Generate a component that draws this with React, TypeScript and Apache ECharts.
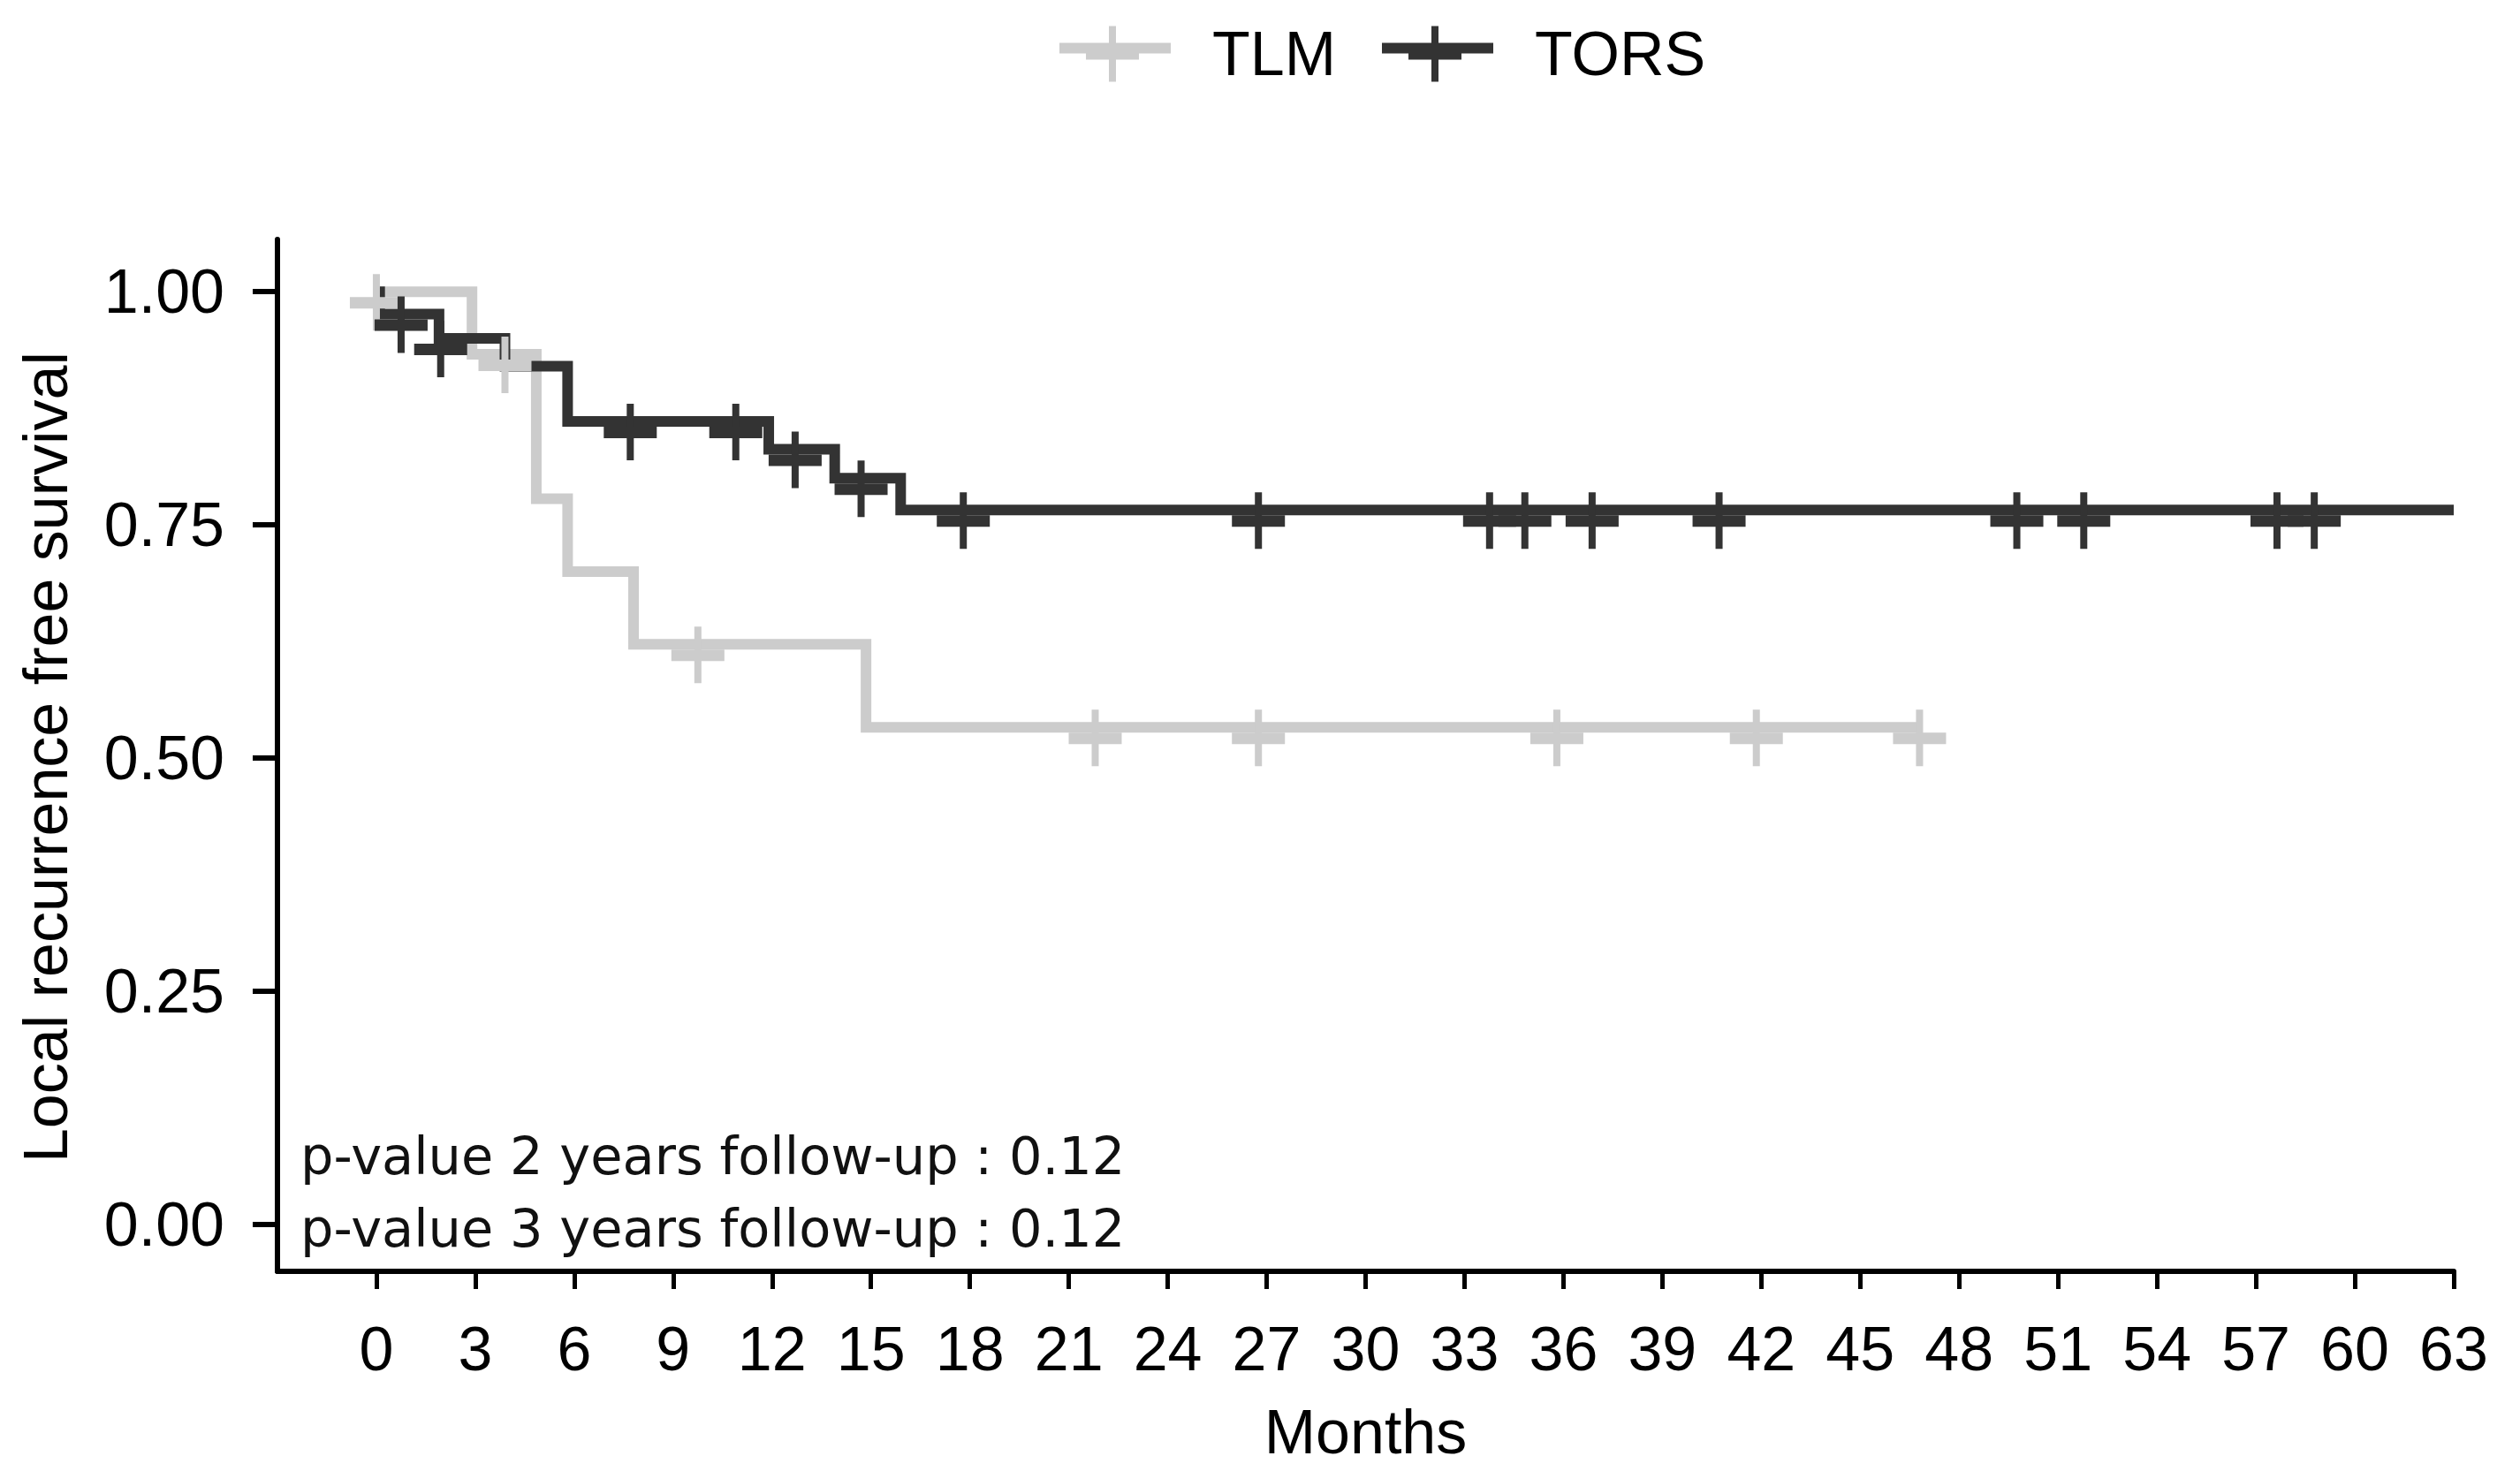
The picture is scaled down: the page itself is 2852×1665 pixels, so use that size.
import React, { useEffect, useRef } from "react";
import * as echarts from "echarts";

// ---- Data ----
const xTicks = [0, 3, 6, 9, 12, 15, 18, 21, 24, 27, 30, 33, 36, 39, 42, 45, 48, 51, 54, 57, 60, 63];
const yTicks = [0, 0.25, 0.5, 0.75, 1];

const tlmTimes = [0, 2.9, 4.85, 5.8, 7.8, 14.85, 46.8];
const tlmSurv = [1.0, 0.933, 0.778, 0.7, 0.622, 0.533, 0.533];
const tlmCensorTimes = [0, 3.9, 9.75, 21.8, 26.75, 35.8, 41.85, 46.8];

const torsTimes = [0, 0.1, 1.9, 3.9, 5.8, 11.9, 13.9, 15.9, 63];
const torsSurv = [1.0, 0.976, 0.95, 0.92, 0.861, 0.831, 0.8, 0.766, 0.766];
const torsCensorTimes = [0.75, 1.95, 7.7, 10.9, 12.7, 14.7, 17.8, 26.75, 33.76, 34.83, 36.87, 40.72, 49.75, 51.78, 57.64, 58.77];

const pValueTexts = ["p-value 2 years follow-up : 0.12", "p-value 3 years follow-up : 0.12"];
const seriesNames = ["TLM", "TORS"];
const seriesColors = ["#cccccc", "#333333"];

const FONT = "'Liberation Sans', Arial, sans-serif";

function survAt(times: number[], surv: number[], t: number): number {
  let v = surv[0];
  for (let i = 0; i < times.length; i++) {
    if (times[i] <= t) v = surv[i];
  }
  return v;
}

const CROSS = "path://M26 0H34V64H26Z M0 26H60V39H0Z";
const LEGEND_ICON = "path://M0 19H126V31H0Z M56 0H64V63H56Z M30 31H90V38H30Z";

export default function App() {
  const ref = useRef<HTMLDivElement>(null);
  useEffect(() => {
    document.body.style.margin = "0";
    if (!ref.current) return;
    const chart = echarts.init(ref.current, undefined, { renderer: "svg" });
    const tlmLine = tlmTimes.map((t, i) => [t, tlmSurv[i]]);
    const torsLine = torsTimes.map((t, i) => [t, torsSurv[i]]);
    const tlmCens = tlmCensorTimes.map((t) => [t, survAt(tlmTimes, tlmSurv, t)]);
    const torsCens = torsCensorTimes.map((t) => [t, survAt(torsTimes, torsSurv, t)]);

    const option: any = {
      animation: false,
      backgroundColor: "#ffffff",
      grid: { left: 314, right: 75, top: 271, bottom: 226, containLabel: false },
      legend: {
        left: 1199,
        top: 26,
        padding: 0,
        itemWidth: 126,
        itemHeight: 63,
        itemGap: 52,
        selectedMode: false,
        data: seriesNames.map((n, i) => ({
          name: n,
          icon: LEGEND_ICON,
          itemStyle: { color: seriesColors[i], borderWidth: 0 },
        })),
        textStyle: { fontSize: 70, fontFamily: FONT, color: "#000", padding: [0, 0, 0, 42] },
      },
      xAxis: {
        type: "value",
        min: -3,
        max: 63,
        axisLine: { show: true, onZero: false, lineStyle: { color: "#000", width: 6 } },
        axisTick: { show: true, length: 20, customValues: xTicks, lineStyle: { color: "#000", width: 5 } },
        axisLabel: { customValues: xTicks, fontSize: 70, fontFamily: FONT, color: "#000", margin: 53 },
        splitLine: { show: false },
        name: "Months",
        nameLocation: "middle",
        nameGap: 147,
        nameTextStyle: { fontSize: 70, fontFamily: FONT, color: "#000" },
      },
      yAxis: {
        type: "value",
        min: -0.05,
        max: 1.056,
        axisLine: { show: true, onZero: false, lineStyle: { color: "#000", width: 6 } },
        axisTick: { show: true, length: 28, customValues: yTicks, lineStyle: { color: "#000", width: 6 } },
        axisLabel: {
          customValues: yTicks,
          fontSize: 70,
          fontFamily: FONT,
          color: "#000",
          margin: 60,
          formatter: (v: number) => v.toFixed(2),
        },
        splitLine: { show: false },
      },
      graphic: [
        {
          type: "text",
          x: 52,
          y: 857,
          rotation: Math.PI / 2,
          style: {
            text: "Local recurrence free survival",
            fontSize: 70,
            fontFamily: FONT,
            fill: "#000",
            textAlign: "center",
            textVerticalAlign: "middle",
          },
        },
        ...pValueTexts.map((t, i) => ({
          type: "text",
          x: 340,
          y: 1308 + i * 82,
          style: {
            text: t,
            fontSize: 59,
            fontFamily: "'DejaVu Sans', Verdana, sans-serif",
            fill: "#111111",
            textAlign: "left",
            textVerticalAlign: "middle",
          },
        })),
      ],
      series: [
        {
          name: seriesNames[0],
          type: "line",
          step: "end",
          data: tlmLine,
          showSymbol: false,
          color: seriesColors[0],
          lineStyle: { color: seriesColors[0], width: 12, cap: "butt", join: "miter" },
          z: 2,
          silent: true,
        },
        {
          name: seriesNames[1],
          type: "line",
          step: "end",
          data: torsLine,
          showSymbol: false,
          color: seriesColors[1],
          lineStyle: { color: seriesColors[1], width: 12, cap: "butt", join: "miter" },
          z: 3,
          silent: true,
        },
        {
          name: "TLM censored",
          type: "scatter",
          data: tlmCens,
          symbol: CROSS,
          symbolSize: [60, 64],
          symbolOffset: [0, 12],
          itemStyle: { color: seriesColors[0], borderWidth: 0, opacity: 1 },
          z: 4,
          silent: true,
        },
        {
          name: "TORS censored",
          type: "scatter",
          data: torsCens,
          symbol: CROSS,
          symbolSize: [60, 64],
          symbolOffset: [0, 12],
          itemStyle: { color: seriesColors[1], borderWidth: 0, opacity: 1 },
          z: 5,
          silent: true,
        },
      ],
    };
    chart.setOption(option);
    return () => chart.dispose();
  }, []);
  return <div ref={ref} style={{ width: 2852, height: 1665 }} />;
}
